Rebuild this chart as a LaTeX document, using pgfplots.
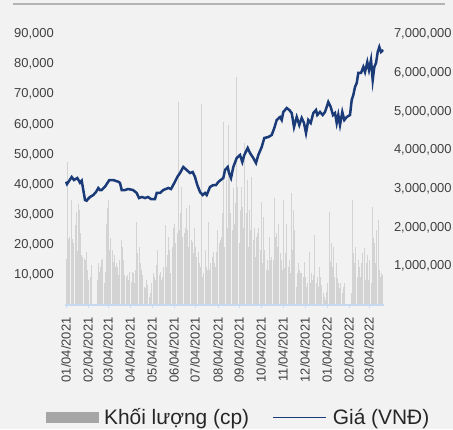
\documentclass[border=0pt]{standalone}
\usepackage{fontspec}
\setmainfont{Liberation Sans}
\usepackage{pgfplots}
\usepackage{pgfplotstable}
\pgfplotsset{compat=1.18}
\definecolor{bgc}{HTML}{F2F2F2}
\definecolor{topc}{HTML}{B3B3B3}
\definecolor{navy}{RGB}{26,58,120}
\definecolor{axisblue}{HTML}{C6D9F0}
\definecolor{barc}{HTML}{D3D3D3}
\definecolor{legbarc}{HTML}{A6A6A6}
\definecolor{labc}{HTML}{404040}
\definecolor{legtextc}{HTML}{262626}
\pgfplotsset{
  barleg/.style={legend image code/.code={\fill[legbarc] (0bp,-5bp) rectangle (52bp,5bp);}},
  lineleg/.style={legend image code/.code={\draw[navy, line width=1.6bp] (0bp,0bp) -- (53bp,0bp);}},
}
\pgfplotstableread{
x vol
0.0 1200000
1.3 3700000
2.3 1700000
3.3 1750000
5.0 2700000
6.3 1700000
7.3 1600000
9.0 2070000
10.0 2400000
11.3 1400000
12.3 2600000
13.3 2450000
14.7 1860000
15.7 1300000
16.7 1250000
18.0 1200000
19.0 1150000
20.3 1370000
21.3 900000
22.7 650000
24.0 720000
25.7 1030000
31.3 650000
32.3 1080000
33.3 850000
34.7 980000
35.7 1160000
36.7 1200000
38.0 570000
39.3 850000
40.7 2100000
41.7 2500000
42.7 2700000
43.7 1420000
44.7 1730000
46.0 1420000
47.0 1100000
48.3 1300000
49.3 980000
50.0 1080000
51.0 980000
52.3 770000
53.7 1160000
55.0 1680000
56.0 1500000
57.3 1160000
58.7 770000
60.0 720000
61.0 770000
62.3 650000
63.7 850000
65.0 600000
66.0 850000
67.3 820000
68.7 570000
69.7 900000
70.7 2140000
71.7 1340000
73.0 1500000
74.0 1080000
75.3 900000
76.7 770000
78.0 460000
79.3 440000
80.7 650000
81.7 520000
83.0 200000
84.3 300000
85.7 570000
87.0 820000
88.3 720000
89.3 650000
90.7 1030000
91.7 1420000
93.0 770000
94.0 850000
95.3 650000
96.3 720000
97.7 980000
99.0 2070000
100.0 980000
101.3 1300000
102.3 1760000
103.7 1420000
104.7 820000
106.3 1500000
107.3 2000000
108.7 2100000
109.7 1600000
111.0 1860000
112.3 5240000
113.3 1940000
114.3 2380000
115.7 3050000
116.7 1760000
118.0 1860000
119.3 2000000
120.3 2500000
121.3 1940000
122.7 1500000
123.7 2580000
125.0 1680000
126.0 1630000
127.3 1340000
128.3 2000000
129.7 1500000
130.7 1240000
132.0 1370000
133.3 1080000
134.3 980000
135.7 5200000
136.7 720000
137.7 820000
139.0 1420000
140.0 980000
141.3 900000
142.3 2140000
143.7 900000
144.7 1080000
146.0 1240000
147.0 1370000
148.3 1080000
149.3 980000
150.7 1370000
151.7 1940000
153.0 1600000
154.0 1680000
155.3 1760000
156.3 2380000
157.7 4730000
158.7 1500000
160.0 3230000
161.3 2000000
162.3 4650000
163.7 3300000
164.7 2380000
166.0 1940000
167.0 3020000
168.3 2100000
169.3 2630000
170.7 5900000
171.7 3050000
173.0 1600000
174.0 2450000
175.3 3050000
176.3 2530000
177.7 2000000
178.7 4180000
180.0 2380000
181.0 3230000
182.3 1500000
183.3 2450000
184.7 1940000
185.7 3300000
187.0 1680000
188.0 2000000
189.3 1240000
190.3 1760000
191.7 1860000
192.7 2000000
194.0 1420000
195.3 2660000
196.3 1080000
197.7 2270000
198.7 1420000
200.0 900000
201.0 1160000
202.3 900000
203.3 1760000
204.7 1160000
205.7 1240000
207.0 1160000
208.0 2760000
209.3 1760000
210.3 1860000
211.7 1500000
212.7 2100000
214.0 1340000
215.0 1160000
216.3 900000
217.3 2700000
218.7 950000
219.7 1340000
220.7 2100000
222.0 980000
223.0 1160000
224.3 820000
225.3 2890000
226.7 1420000
227.7 2450000
228.7 1940000
230.0 460000
231.0 820000
232.3 1080000
233.3 900000
234.7 820000
235.7 820000
237.0 720000
238.0 1100000
239.3 720000
240.7 460000
241.7 570000
243.0 1370000
244.0 570000
245.3 820000
246.3 650000
247.7 770000
248.7 1810000
250.0 570000
251.0 720000
252.3 460000
253.3 980000
254.7 720000
255.7 520000
257.0 300000
258.0 200000
259.3 130000
260.7 340000
261.7 570000
263.0 2400000
264.0 1100000
265.3 1600000
266.3 980000
267.7 1500000
268.7 720000
270.0 1080000
271.3 700000
272.3 570000
273.7 440000
274.7 570000
276.0 300000
277.0 460000
278.3 570000
285.0 300000
286.3 2700000
287.3 1340000
288.7 1080000
289.7 1500000
291.0 720000
292.0 1160000
293.3 980000
294.3 720000
295.7 1080000
296.7 1340000
298.0 1470000
299.0 650000
300.3 1080000
301.3 1300000
302.7 650000
303.7 1160000
305.0 570000
306.0 2530000
307.3 1730000
308.3 1600000
309.7 1080000
310.7 1940000
312.0 2200000
313.0 900000
314.3 720000
315.3 820000
316.7 770000
}\voltable
\pgfplotstableread{
x price
0 40950
1 40180
3 41180
5.7 42510
8 41510
11.3 42180
14 40620
15.7 41280
17.3 38190
19 34870
20.7 34640
22 35200
24 35870
27.3 36530
30 37530
32.3 38860
34 38190
35.7 38190
39 39290
43.3 41510
47.3 41510
50 41180
52.3 40950
54 40520
55.7 38190
59 38190
62 38520
67 38190
70.7 37200
73 35530
76 35870
79 35530
82 35870
85 35200
89 35200
90.7 37200
94 37200
97.3 38190
102.3 38860
105 38520
108.3 40520
111.3 42510
114 43840
117.3 45830
120.7 44830
124 43840
126.7 44170
129 42510
131.3 39850
134 37530
136.7 36530
139 37200
140.7 36530
144 39190
147.3 39850
150 39850
152.3 40850
157.3 42180
159 44830
161.7 45830
163 43840
165 42180
167.3 45830
170.7 48820
174 49820
176.3 47490
178.3 49820
181.7 52140
184 50480
187.3 48820
190 47160
192.3 49820
195.7 52470
198.3 55460
202.3 55790
205.7 56460
208.3 58780
210.7 61440
214 62430
215.7 61440
217.3 64100
220.7 65420
223.3 64760
225.7 63760
228 59110
230.7 62430
233.3 59780
235.7 62100
238 60440
240 57120
242.3 61440
244.7 60440
247.3 63760
250 64760
251.3 63100
254 64100
256.7 63100
259 64100
262.3 67420
264.7 65760
267 63100
269 63760
270.7 60440
272.3 63100
274 59780
276.3 64100
278.3 61440
280.7 62430
284 63100
285.7 68080
287.3 69740
289 72400
290.7 73730
292.3 77050
295 77050
297.3 79040
299 77380
301.3 80700
303 78040
305 81360
306.7 74720
308.3 79040
310 80370
311.7 84020
313.3 85680
315 84020
317.3 84690
}\pricetable
\begin{document}
\begin{tikzpicture}[x=1bp,y=1bp]
\fill[bgc] (0,0) rectangle (453,429);
\draw[topc, line width=2.5bp] (13,425) -- (445,425);
\begin{axis}[
  at={(65bp,124bp)}, anchor=south west,
  width=318.5bp, height=271bp, scale only axis,
  xmin=-1, xmax=317.5, ymin=0, ymax=7000000,
  axis x line=none, axis y line*=right,
  y axis line style={draw=none},
  major tick length=0pt,
  scaled y ticks=false,
  ytick={1000000,2000000,3000000,4000000,5000000,6000000,7000000},
  yticklabels={{1,000,000},{2,000,000},{3,000,000},{4,000,000},{5,000,000},{6,000,000},{7,000,000}},
  ytick style={draw=none},
  yticklabel style={font=\fontsize{13}{15}\selectfont, text=labc, xshift=7bp},
  /pgf/number format/assume math mode=true,
]
\addplot[ycomb, draw=barc, line width=0.9bp, mark=none] table[x=x, y=vol] {\voltable};
\end{axis}
\begin{axis}[
  at={(65bp,124bp)}, anchor=south west,
  width=318.5bp, height=271bp, scale only axis,
  xmin=-1, xmax=317.5, ymin=0, ymax=90000,
  axis x line*=bottom, axis y line*=left,
  scaled y ticks=false,
  y axis line style={draw=none},
  x axis line style={draw=axisblue, line width=1.5bp},
  xtick={0,22,42,64,86,108,129,152,173,195,217,239,261,283,303},
  xticklabels={01/04/2021,02/04/2021,03/04/2021,04/04/2021,05/04/2021,06/04/2021,07/04/2021,08/04/2021,09/04/2021,10/04/2021,11/04/2021,12/04/2021,01/04/2022,02/04/2022,03/04/2022},
  xtick style={draw=axisblue, line width=1bp},
  major tick length=3bp, tick align=outside,
  xticklabel shift=6bp,
  xticklabel style={rotate=90, anchor=east, font=\fontsize{13}{15}\selectfont, text=labc},
  ytick={10000,20000,30000,40000,50000,60000,70000,80000,90000},
  yticklabels={{10,000},{20,000},{30,000},{40,000},{50,000},{60,000},{70,000},{80,000},{90,000}},
  ytick style={draw=none},
  yticklabel style={font=\fontsize{13}{15}\selectfont, text=labc, xshift=-4.7bp},
  /pgf/number format/assume math mode=true,
  legend columns=2,
  legend style={at={(0.5416,-0.415)}, anchor=center, draw=none, fill=none,
    font=\fontsize{21}{25}\selectfont, text=legtextc, inner sep=0pt,
    nodes={inner sep=0pt}, column sep=6bp,
    /tikz/every even column/.append style={column sep=23bp}},
]
\addplot[navy, line width=2.5bp, mark=none, forget plot] table[x=x, y=price] {\pricetable};
\addlegendimage{barleg}
\addlegendentry{Khối lượng (cp)}
\addlegendimage{lineleg}
\addlegendentry{Giá (VNĐ)}
\end{axis}
\pgfresetboundingbox
\path (0,0) rectangle (453,429);
\end{tikzpicture}
\end{document}
